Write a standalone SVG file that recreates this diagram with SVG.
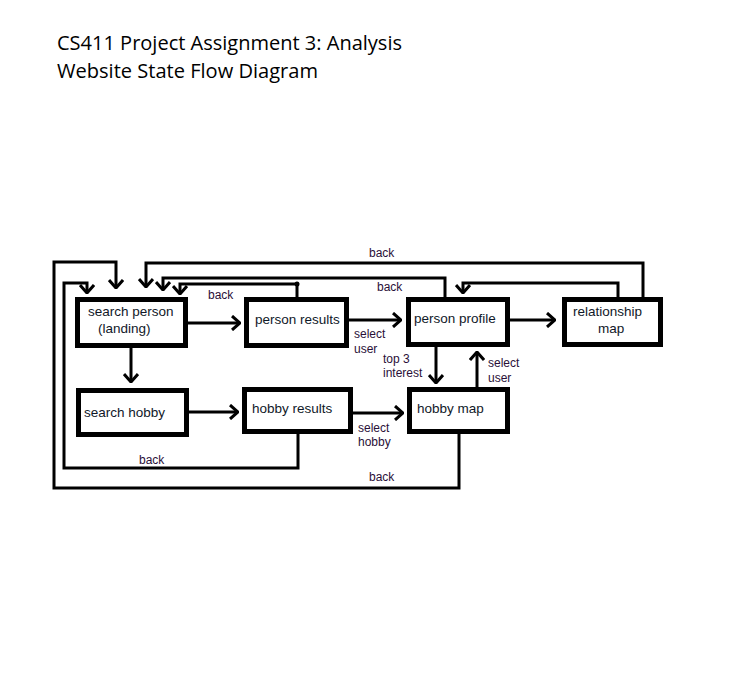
<svg xmlns="http://www.w3.org/2000/svg" width="731" height="694" viewBox="0 0 731 694">
<style>
.title{font-family:"Open Sans","Liberation Sans",Arial,sans-serif;font-size:20px;fill:#000}
.node rect{fill:#fff;stroke:#000;stroke-width:5}
.node text{font-family:"Liberation Sans",Arial,sans-serif;font-size:13.5px;fill:#101828}
.lbl{font-family:"Liberation Sans",Arial,sans-serif;font-size:12px;fill:#2a1038}
.conn path,.conn line{fill:none;stroke:#000;stroke-width:3}
</style>
<defs>
<marker id="arr" viewBox="0 0 10 16" refX="9" refY="8" markerWidth="10" markerHeight="16" markerUnits="userSpaceOnUse" orient="auto">
<path d="M1,1 L9,8 L1,15" fill="none" stroke="#000" stroke-width="3"/>
</marker>
</defs>
<rect width="731" height="694" fill="#fff"/>
<text class="title" x="57" y="50" textLength="345" lengthAdjust="spacingAndGlyphs">CS411 Project Assignment 3: Analysis</text>
<text class="title" x="57" y="78" textLength="261" lengthAdjust="spacingAndGlyphs">Website State Flow Diagram</text>

<g class="conn" id="connectors">
<line x1="188" y1="323" x2="240" y2="323" marker-end="url(#arr)"/>
<line x1="349" y1="320" x2="401" y2="320" marker-end="url(#arr)"/>
<line x1="510" y1="320" x2="555" y2="320" marker-end="url(#arr)"/>
<line x1="131" y1="348" x2="131" y2="382" marker-end="url(#arr)"/>
<line x1="189" y1="412" x2="238" y2="412" marker-end="url(#arr)"/>
<line x1="353" y1="413" x2="403" y2="413" marker-end="url(#arr)"/>
<line x1="436" y1="347" x2="436" y2="383" marker-end="url(#arr)"/>
<line x1="477" y1="387" x2="477" y2="352" marker-end="url(#arr)"/>
<path d="M459,434 V488 H54 V262 H116 V288" marker-end="url(#arr)"/>
<path d="M298,434 V468 H64 V283 H87 V293" marker-end="url(#arr)"/>
<path d="M643,297 V263 H146 V287" marker-end="url(#arr)"/>
<path d="M445,297 V278 H163 V290" marker-end="url(#arr)"/>
<path d="M297,297 V284 H180 V294" marker-end="url(#arr)"/>
<circle cx="297" cy="284" r="2.5" fill="#000"/>
<path d="M618,297 V283 H463 V293" marker-end="url(#arr)"/>
</g>

<g id="labels">
<text class="lbl" x="369" y="257">back</text>
<text class="lbl" x="377" y="291">back</text>
<text class="lbl" x="208" y="299">back</text>
<text class="lbl" x="354" y="338">select</text>
<text class="lbl" x="354" y="353">user</text>
<text class="lbl" x="383" y="363">top 3</text>
<text class="lbl" x="383" y="377">interest</text>
<text class="lbl" x="488" y="367">select</text>
<text class="lbl" x="488" y="382">user</text>
<text class="lbl" x="358" y="432">select</text>
<text class="lbl" x="358" y="446">hobby</text>
<text class="lbl" x="139" y="464">back</text>
<text class="lbl" x="369" y="481">back</text>
</g>

<g class="node" id="search-person">
<rect x="77.5" y="299.5" width="108" height="46"/>
<text x="88" y="316">search person</text>
<text x="98" y="333">(landing)</text>
</g>
<g class="node" id="person-results">
<rect x="246.5" y="299.5" width="100" height="46"/>
<text x="255" y="324">person results</text>
</g>
<g class="node" id="person-profile">
<rect x="408.5" y="299.5" width="99" height="45"/>
<text x="414" y="323">person profile</text>
</g>
<g class="node" id="relationship-map">
<rect x="564.5" y="299.5" width="96" height="45"/>
<text x="573" y="316">relationship</text>
<text x="598" y="333">map</text>
</g>
<g class="node" id="search-hobby">
<rect x="78.5" y="390.5" width="108" height="44"/>
<text x="84" y="417">search hobby</text>
</g>
<g class="node" id="hobby-results">
<rect x="244.5" y="389.5" width="106" height="42"/>
<text x="252" y="413">hobby results</text>
</g>
<g class="node" id="hobby-map">
<rect x="409.5" y="389.5" width="98" height="42"/>
<text x="417" y="413">hobby map</text>
</g>
</svg>
